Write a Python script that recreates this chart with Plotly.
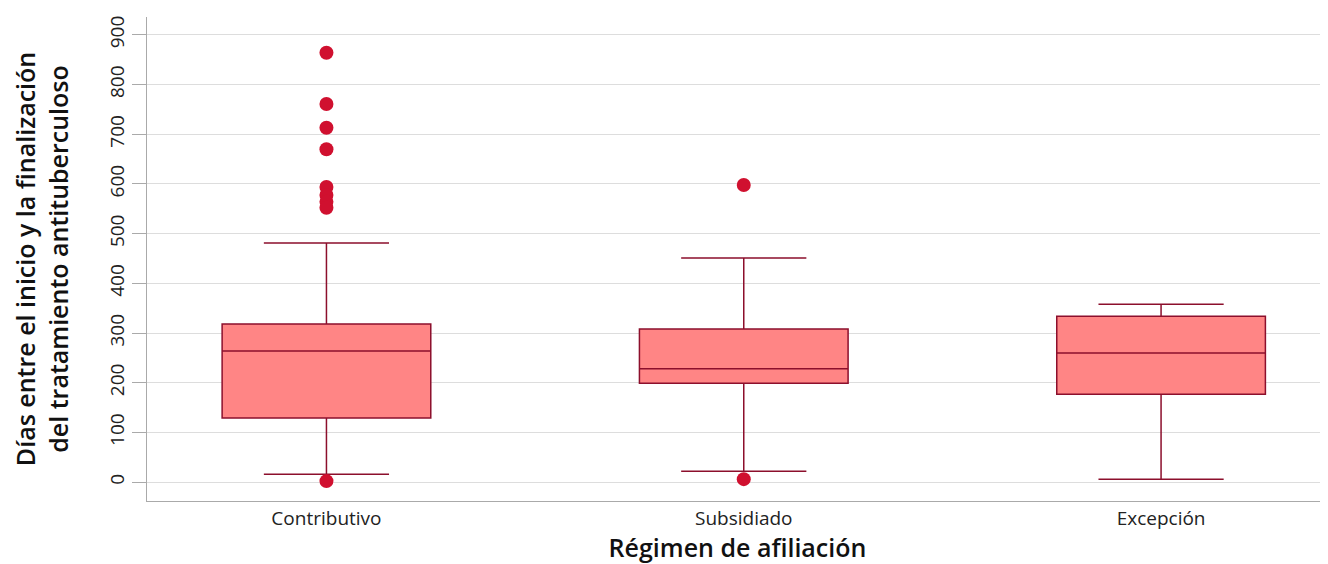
import plotly.graph_objects as go

categories = ["Contributivo", "Subsidiado", "Excepción"]
q1 = [129, 199, 177]
median = [264, 228, 260]
q3 = [318, 308, 334]
lower_fence = [16, 22, 6]
upper_fence = [481, 451, 358]

outlier_cat = ["Contributivo"] * 9 + ["Subsidiado"] * 2
outlier_val = [864, 761, 713, 670, 594, 578, 564, 552, 2, 598, 6]

font_family = "'Open Sans', sans-serif"

fig = go.Figure()
fig.add_trace(go.Box(
    x=categories, q1=q1, median=median, q3=q3,
    lowerfence=lower_fence, upperfence=upper_fence,
    boxpoints=False, width=0.5, whiskerwidth=0.6,
    fillcolor="#FF8585",
    line=dict(color="#8C0F2C", width=1.5),
    showlegend=False, hoverinfo="skip",
))
fig.add_trace(go.Scatter(
    x=outlier_cat, y=outlier_val, mode="markers",
    marker=dict(color="#D0102F", size=14, line=dict(width=0)),
    showlegend=False,
))

fig.update_layout(
    width=1320, height=556,
    margin=dict(l=139, r=0, t=9, b=63),
    plot_bgcolor="white", paper_bgcolor="white",
    font=dict(family=font_family, color="#222"),
)
fig.update_xaxes(
    type="category", range=[-0.43, 2.40],
    showline=True, linecolor="#AAAAAA", linewidth=1,
    showgrid=False, ticks="",
    tickfont=dict(size=19, color="#222", weight=400),
    title=dict(text="Régimen de afiliación", font=dict(size=25, color="#111", weight=600), standoff=6),
)
fig.update_yaxes(
    range=[-38, 936], tickvals=[0, 100, 200, 300, 400, 500, 600, 700, 800, 900],
    showline=True, linecolor="#AAAAAA", linewidth=1,
    showgrid=True, gridcolor="#DDDDDD", gridwidth=1,
    zeroline=False,
    ticks="outside", ticklen=14, tickcolor="#AAAAAA",
    tickangle=-90,
    tickfont=dict(size=19, color="#222", weight=400),
    title=dict(text="Días entre el inicio y la finalización<br>del tratamiento antituberculoso",
               font=dict(size=25, color="#111", weight=600), standoff=30),
)

fig.write_html("out.html")
